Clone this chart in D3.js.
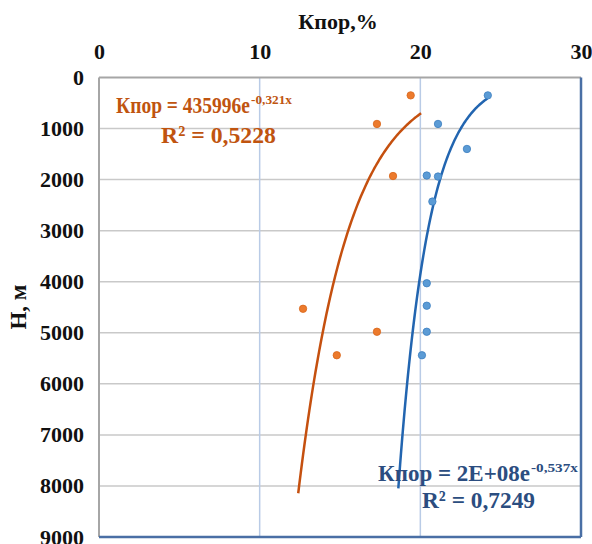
<!DOCTYPE html>
<html><head><meta charset="utf-8">
<script src="https://cdn.jsdelivr.net/npm/d3@7"></script>
<style>body{margin:0;background:#fff}svg{display:block}text{font-family:"Liberation Serif","Times New Roman",serif;font-weight:bold}</style>
</head><body>
<script>
// Data: porosity (Кпор, %) vs depth (Н, м)
const seriesA_K = [19.4, 17.3, 18.3, 12.7, 17.3, 14.8];
const seriesA_H = [350, 910, 1930, 4530, 4980, 5440];
const seriesB_K = [24.2, 21.1, 22.9, 20.4, 21.1, 20.75, 20.4, 20.4, 20.4, 20.1];
const seriesB_H = [350, 910, 1400, 1920, 1940, 2430, 4030, 4470, 4980, 5440];
// Trendline coefficients H = a*exp(b*K) and drawn K ranges
const trendA = [435996, -0.321];
const trendB = [1.78e8, -0.537];
const trendA_range = [12.4, 20.05];
const trendB_range = [18.63, 24.18];
const xTicks = [0, 10, 20, 30];
const yTicks = [0, 1000, 2000, 3000, 4000, 5000, 6000, 7000, 8000, 9000];
const labelA = ["Кпор = 435996e", "-0,321x", "R² = 0,5228"];
const labelB = ["Кпор = 2E+08e", "-0,537x", "R² = 0,7249"];

const W = 592, H = 544;
const m = {left: 99, right: 581, top: 77.5, bottom: 537};
const svg = d3.select("body").append("svg").attr("width", W).attr("height", H);
const x = d3.scaleLinear().domain([0, 30]).range([m.left, m.right]);
const y = d3.scaleLinear().domain([0, 9000]).range([m.top, m.bottom]);

// gridlines
svg.append("g").selectAll("line").data(yTicks.slice(1, -1)).join("line")
  .attr("x1", m.left).attr("x2", m.right).attr("y1", d => y(d)).attr("y2", d => y(d))
  .attr("stroke", "#c9c9c9").attr("stroke-width", 1.5);
svg.append("g").selectAll("line").data(xTicks.slice(1, -1)).join("line")
  .attr("y1", m.top).attr("y2", m.bottom).attr("x1", d => x(d)).attr("x2", d => x(d))
  .attr("stroke", "#b9cbe6").attr("stroke-width", 1.5);

// border
svg.append("line").attr("x1", m.left).attr("x2", m.right).attr("y1", m.top).attr("y2", m.top).attr("stroke", "#a6a6a6").attr("stroke-width", 2);
svg.append("line").attr("x1", m.left).attr("x2", m.left).attr("y1", m.top).attr("y2", m.bottom).attr("stroke", "#a6a6a6").attr("stroke-width", 2);
svg.append("line").attr("x1", m.left).attr("x2", m.right).attr("y1", m.bottom).attr("y2", m.bottom).attr("stroke", "#4a6fa5").attr("stroke-width", 2.5);
svg.append("line").attr("x1", m.right).attr("x2", m.right).attr("y1", m.top).attr("y2", m.bottom).attr("stroke", "#4a6fa5").attr("stroke-width", 2.5);

// axes
const xAxis = d3.axisTop(x).tickValues(xTicks).tickSize(0).tickPadding(0).tickFormat(d3.format("d"));
const gx = svg.append("g").attr("transform", `translate(0,${m.top - 19})`).call(xAxis);
gx.select(".domain").remove();
gx.selectAll("text").attr("font-size", 22).attr("fill", "#111").attr("font-family", "Liberation Serif").attr("font-weight", "bold");
const yAxis = d3.axisLeft(y).tickValues(yTicks).tickSize(0).tickPadding(0).tickFormat(d3.format("d"));
const gy = svg.append("g").attr("transform", `translate(${m.left - 15},0)`).call(yAxis);
gy.select(".domain").remove();
gy.selectAll("text").attr("font-size", 22).attr("fill", "#111").attr("font-family", "Liberation Serif").attr("font-weight", "bold");

// titles
svg.append("text").attr("x", 338).attr("y", 29).attr("text-anchor", "middle").attr("font-size", 22).attr("fill", "#111").text("Кпор,%");
svg.append("text").attr("transform", "translate(26,307) rotate(-90)").attr("text-anchor", "middle").attr("font-size", 23).attr("fill", "#111").text("Н, м");

// trendlines
function trend(coef, range) {
  return d3.range(0, 101).map(i => {
    const k = range[0] + (range[1] - range[0]) * i / 100;
    return [k, coef[0] * Math.exp(coef[1] * k)];
  });
}
const line = d3.line().x(d => x(d[0])).y(d => y(d[1])).curve(d3.curveLinear);
svg.append("path").datum(trend(trendA, trendA_range)).attr("d", line).attr("fill", "none").attr("stroke", "#c5500f").attr("stroke-width", 2.5);
svg.append("path").datum(trend(trendB, trendB_range)).attr("d", line).attr("fill", "none").attr("stroke", "#2265b0").attr("stroke-width", 2.5);

// points
svg.append("g").selectAll("circle").data(d3.zip(seriesA_K, seriesA_H)).join("circle")
  .attr("cx", d => x(d[0])).attr("cy", d => y(d[1])).attr("r", 3.7)
  .attr("fill", "#ec7a2c").attr("stroke", "#d8661a").attr("stroke-width", 0.8);
svg.append("g").selectAll("circle").data(d3.zip(seriesB_K, seriesB_H)).join("circle")
  .attr("cx", d => x(d[0])).attr("cy", d => y(d[1])).attr("r", 3.7)
  .attr("fill", "#5b9bd5").attr("stroke", "#3c7fc0").attr("stroke-width", 0.8);

// equation labels
function eq(lbl, color, x1, b1, w1, w1s, x2, b2, w2) {
  svg.append("text").attr("x", x1).attr("y", b1).attr("fill", color).attr("font-size", 24)
    .attr("textLength", w1).attr("lengthAdjust", "spacingAndGlyphs").text(lbl[0]);
  svg.append("text").attr("x", x1 + w1 + 1).attr("y", b1 - 9).attr("fill", color).attr("font-size", 13)
    .attr("textLength", w1s).attr("lengthAdjust", "spacingAndGlyphs").text(lbl[1]);
  svg.append("text").attr("x", x2).attr("y", b2).attr("fill", color).attr("font-size", 24)
    .attr("textLength", w2).attr("lengthAdjust", "spacingAndGlyphs").text(lbl[2]);
}
eq(labelA, "#c0540f", 116, 113, 134, 41, 161, 143, 115);
eq(labelB, "#2b4d80", 378, 481, 152, 47, 422, 508, 113);
</script>
</body></html>
